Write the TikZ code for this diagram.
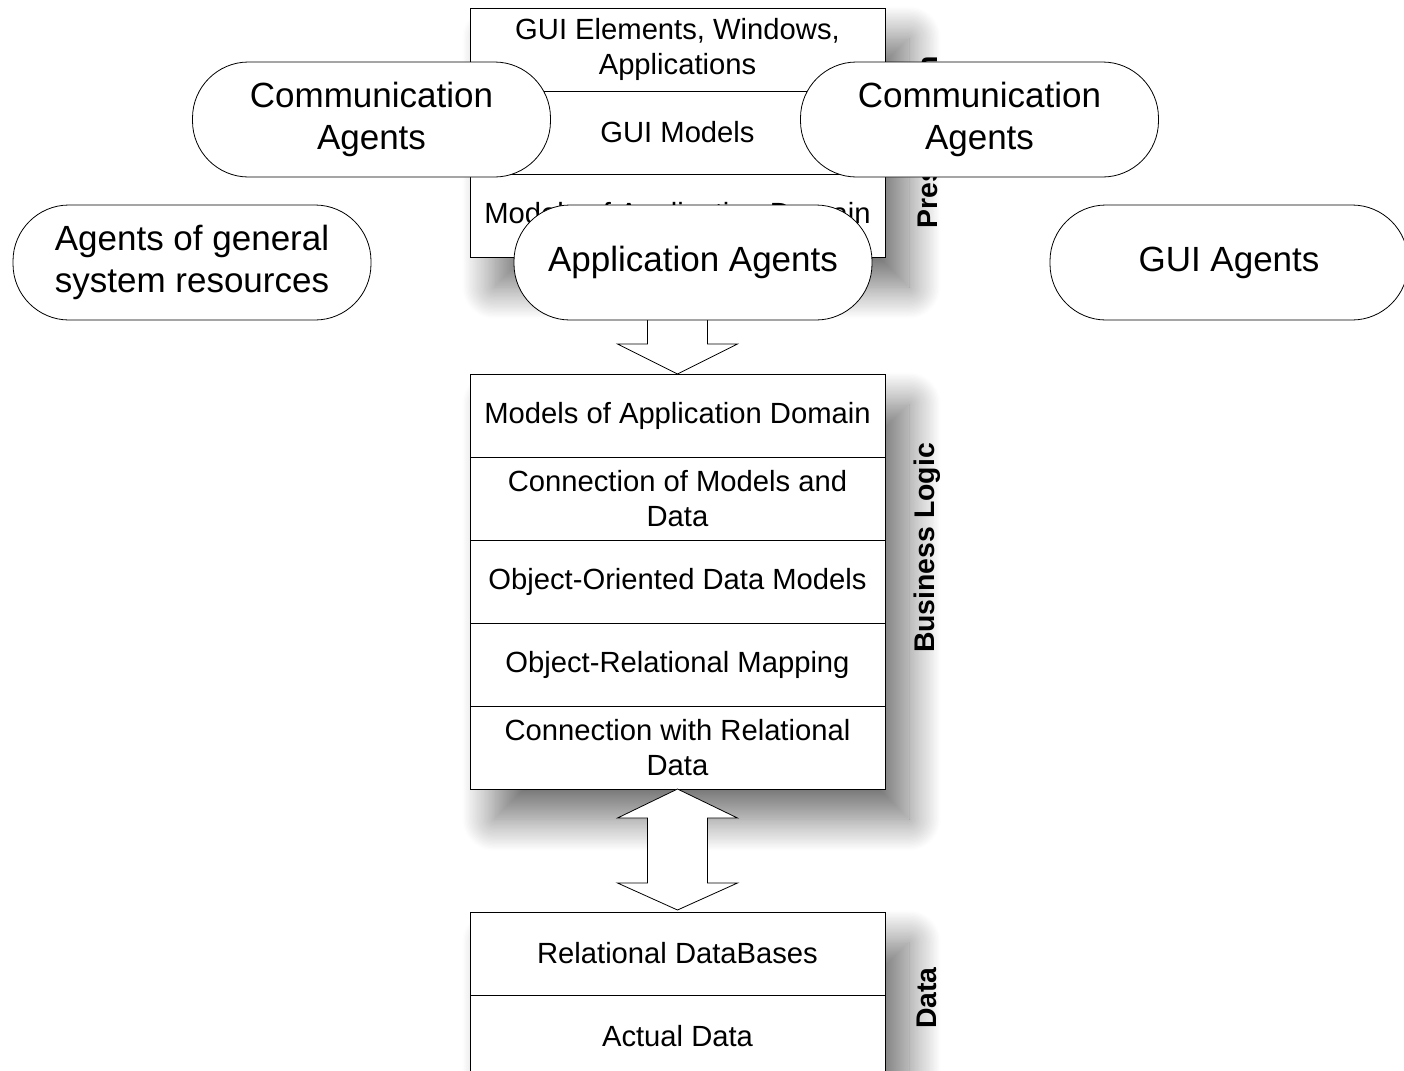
\documentclass[tikz,border=0pt]{standalone}
\usepackage{fontspec}
\setmainfont{Liberation Sans}
\usetikzlibrary{positioning, fit, backgrounds, shadows.blur}

\newcommand{\rowfont}{\fontsize{14.6pt}{17.5pt}\selectfont}
\newcommand{\agentfont}{\fontsize{17.5pt}{21pt}\selectfont}
\newcommand{\layerfont}{\fontsize{14.2pt}{17pt}\selectfont\bfseries}

\begin{document}
\begin{tikzpicture}[
  x=0.5pt, y=-0.5pt,
  layerrow/.style={
    draw, fill=white, minimum width=207.5pt, minimum height=41.5pt,
    inner sep=0pt, outer sep=0pt, align=center, font=\rowfont
  },
  layerback/.style={
    fill=white, inner sep=0pt,
    blur shadow={shadow xshift=12pt, shadow yshift=-15pt,
      shadow blur radius=16pt, shadow blur steps=24, shadow opacity=55}
  },
  layername/.style={rotate=90, font=\layerfont},
  agent/.style={
    draw, fill=white, rounded corners=28pt, minimum width=179pt,
    minimum height=57.5pt, align=center, font=\agentfont
  },
  bigarrow/.style={draw, fill=white, line join=miter}
]

  \useasboundingbox (0,0) rectangle (1404,1071);

  % --- PRESENTATION ---
  \node[layerrow, anchor=north] (pres1) at (677.5,8) {GUI Elements, Windows,\\Applications};
  \node[layerrow, below=0pt of pres1] (pres2) {GUI Models};
  \node[layerrow, below=0pt of pres2] (pres3) {Models of Application Domain};

  % --- BUSINESS LOGIC ---
  \node[layerrow, anchor=north] (logic1) at (677.5,374) {Models of Application Domain};
  \node[layerrow, below=0pt of logic1] (logic2) {Connection of Models and\\Data};
  \node[layerrow, below=0pt of logic2] (logic3) {Object-Oriented Data Models};
  \node[layerrow, below=0pt of logic3] (logic4) {Object-Relational Mapping};
  \node[layerrow, below=0pt of logic4] (logic5) {Connection with Relational\\Data};

  % --- DATA ---
  \node[layerrow, anchor=north] (data1) at (677.5,912) {Relational DataBases};
  \node[layerrow, below=0pt of data1] (data2) {Actual Data};

  % Shadows behind the three stacks
  \begin{scope}[on background layer]
    \node[layerback, fit=(pres1)(pres3)] (presback) {};
    \node[layerback, fit=(logic1)(logic5)] (logicback) {};
    \node[layerback, fit=(data1)(data2)] (databack) {};
  \end{scope}

  % Layer names
  \node[layername] (presname) at (927,142) {Presentation};
  \node[layername] (logicname) at (927,548) {Business Logic};
  \node[layername] (dataname) at (927,998) {Data};

  % --- ARROWS ---
  % Presentation -> Business Logic
  \draw[bigarrow]
    ([xshift=-15pt]pres3.south) -- ([xshift=-15pt, yshift=15pt]logic1.north)
    -- ([xshift=-30pt, yshift=15pt]logic1.north) -- (logic1.north)
    -- ([xshift=30pt, yshift=15pt]logic1.north) -- ([xshift=15pt, yshift=15pt]logic1.north)
    -- ([xshift=15pt]pres3.south) -- cycle;

  % Business Logic <-> Data
  \draw[bigarrow]
    (logic5.south) -- ([xshift=30pt, yshift=-14.5pt]logic5.south)
    -- ([xshift=15pt, yshift=-14.5pt]logic5.south) -- ([xshift=15pt, yshift=14.5pt]data1.north)
    -- ([xshift=30pt, yshift=14.5pt]data1.north) -- ([yshift=1pt]data1.north)
    -- ([xshift=-30pt, yshift=14.5pt]data1.north) -- ([xshift=-15pt, yshift=14.5pt]data1.north)
    -- ([xshift=-15pt, yshift=-14.5pt]logic5.south) -- ([xshift=-30pt, yshift=-14.5pt]logic5.south)
    -- cycle;

  % --- AGENTS ---
  \node[agent] (commleft) at (371.5,119.5) {Communication\\Agents};
  \node[agent] (commright) at (979.5,119.5) {Communication\\Agents};
  \node[agent] (sysagents) at (192,262.5) {Agents of general\\system resources};
  \node[agent] (appagents) at (693,262.5) {Application Agents};
  \node[agent] (guiagents) at (1229,262.5) {GUI Agents};

\end{tikzpicture}
\end{document}
